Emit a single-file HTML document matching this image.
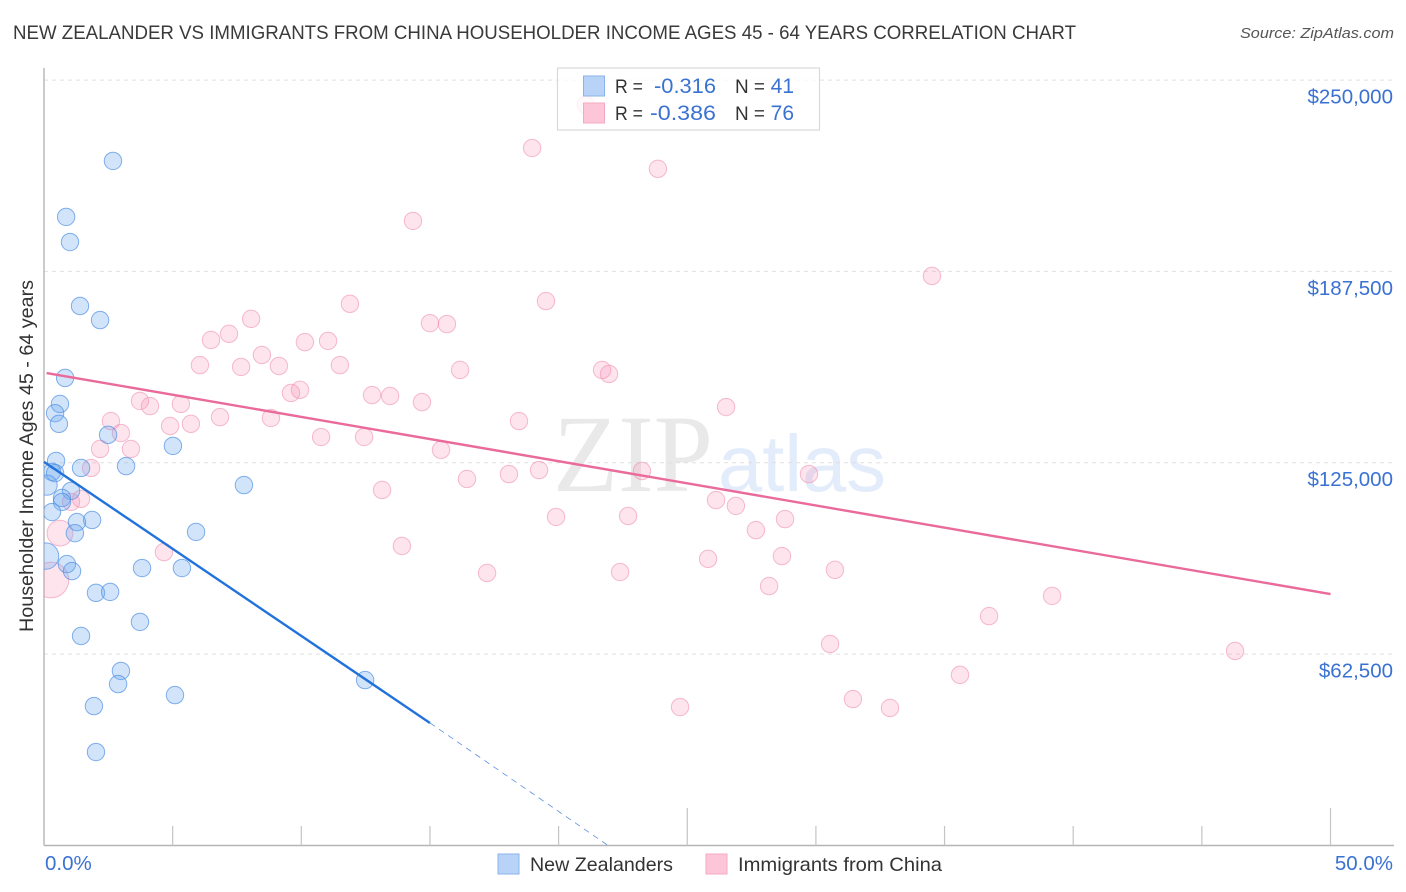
<!DOCTYPE html>
<html lang="en">
<head>
<meta charset="utf-8">
<title>New Zealander vs Immigrants from China Householder Income Correlation Chart</title>
<style>
html,body{margin:0;padding:0;background:#fff;}
body{width:1406px;height:892px;overflow:hidden;font-family:"Liberation Sans",sans-serif;}
svg{display:block;}
text{font-family:"Liberation Sans",sans-serif;}
</style>
</head>
<body>
<svg id="chart" xmlns="http://www.w3.org/2000/svg" width="1406" height="892" viewBox="0 0 1406 892">
  <defs>
    <clipPath id="plot-clip"><rect x="44" y="68" width="1350" height="778"/></clipPath>
  </defs>
  <rect x="0" y="0" width="1406" height="892" fill="#ffffff"/>
  <text x="13" y="39" font-size="19.5" fill="#3a3a3a" textLength="1063" lengthAdjust="spacingAndGlyphs">NEW ZEALANDER VS IMMIGRANTS FROM CHINA HOUSEHOLDER INCOME AGES 45 - 64 YEARS CORRELATION CHART</text>
  <text x="1394" y="38" font-size="15" font-style="italic" fill="#555555" text-anchor="end" textLength="154" lengthAdjust="spacingAndGlyphs">Source: ZipAtlas.com</text>
  <g id="watermark">
    <text x="553" y="491" font-size="110" fill="#e9e9e9" textLength="160" lengthAdjust="spacingAndGlyphs" style="font-family:'Liberation Serif',serif">ZIP</text>
    <text x="718" y="491" font-size="80" fill="#e3ecfa" textLength="168" lengthAdjust="spacingAndGlyphs">atlas</text>
  </g>
  <g id="grid"></g>
  <g id="axes"></g>
  <g id="points-pink" clip-path="url(#plot-clip)"></g>
  <g id="points-blue" clip-path="url(#plot-clip)"></g>
  <g id="trends"></g>
  <text transform="translate(33,632) rotate(-90)" font-size="19.5" fill="#333333" textLength="352" lengthAdjust="spacingAndGlyphs">Householder Income Ages 45 - 64 years</text>
  <g id="stats-legend">
    <rect x="557.5" y="68" width="262" height="62" fill="#ffffff" fill-opacity="0.78" stroke="#d9d9d9" stroke-width="1.2"/>
    <rect x="583.5" y="76" width="21" height="20" fill="#b8d3f7" stroke="#8ab4ea" stroke-width="1"/>
    <rect x="583.5" y="103" width="21" height="20" fill="#fcc6d8" stroke="#f4a9c3" stroke-width="1"/>
    <text x="615" y="93" font-size="19" fill="#333333" textLength="28" lengthAdjust="spacingAndGlyphs">R =</text>
    <text x="654" y="93" font-size="21" fill="#3a72d2" textLength="62" lengthAdjust="spacingAndGlyphs">-0.316</text>
    <text x="735" y="93" font-size="19" fill="#333333" textLength="30" lengthAdjust="spacingAndGlyphs">N =</text>
    <text x="794" y="93" font-size="21" fill="#3a72d2" text-anchor="end">41</text>
    <text x="615" y="120" font-size="19" fill="#333333" textLength="28" lengthAdjust="spacingAndGlyphs">R =</text>
    <text x="650" y="120" font-size="21" fill="#3a72d2" textLength="66" lengthAdjust="spacingAndGlyphs">-0.386</text>
    <text x="735" y="120" font-size="19" fill="#333333" textLength="30" lengthAdjust="spacingAndGlyphs">N =</text>
    <text x="794" y="120" font-size="21" fill="#3a72d2" text-anchor="end">76</text>
  </g>
  <g id="bottom-legend">
    <rect x="498" y="854" width="21" height="20" fill="#b8d3f7" stroke="#8ab4ea" stroke-width="1"/>
    <text x="530" y="871" font-size="19.5" fill="#333333" textLength="143" lengthAdjust="spacingAndGlyphs">New Zealanders</text>
    <rect x="706" y="854" width="21" height="20" fill="#fcc6d8" stroke="#f4a9c3" stroke-width="1"/>
    <text x="738" y="871" font-size="19.5" fill="#333333" textLength="204" lengthAdjust="spacingAndGlyphs">Immigrants from China</text>
  </g>
</svg>
<script>
// Value-axis ticks (USD) and labels
const incomeTicks = [62500, 125000, 187500, 250000];
const incomeTickLabels = ["$62,500", "$125,000", "$187,500", "$250,000"];
// Percent-axis ticks
const pctTicks = [5, 10, 15, 20, 25, 30, 35, 40, 45, 50];
const pctEndLabels = ["0.0%", "50.0%"];

// New Zealanders: percent, income in $ thousands, population weight
const nzPct = [2.68,0.86,1.01,1.40,2.18,0.82,0.62,0.43,0.58,2.49,5.01,0.47,0.31,0.43,1.44,3.19,0.12,7.77,1.05,0.70,0.70,0.31,1.87,1.28,1.20,5.91,0.06,0.89,1.09,3.81,5.36,2.02,2.57,3.73,1.44,2.99,12.48,2.88,5.09,1.94,2.02];
const nzIncome = [223.6,205.3,197.1,176.2,171.6,152.7,144.2,141.2,137.7,134.1,130.5,125.6,122.0,121.6,123.3,123.9,117.7,117.7,115.8,113.5,112.2,108.9,106.3,105.6,102.0,102.4,94.5,91.9,89.6,90.6,90.6,82.5,82.8,73.0,68.4,57.0,54.0,52.7,49.1,45.5,30.5];
const nzWeight = [1,1,1,1,1,1,1,1,1,1,1,1,1,1,1,1,1.35,1,1,1,1,1,1,1,1,1,2.3,1,1,1,1,1,1,1,1,1,1,1,1,1,1];

// Immigrants from China: percent, income in $ thousands, population weight
const cnPct = [21.06,18.97,23.86,14.34,34.51,19.51,11.89,8.05,15.00,15.66,7.19,6.49,10.14,11.04,8.47,11.50,6.06,7.66,9.13,16.17,21.69,21.96,3.73,4.12,5.32,9.60,9.95,12.75,13.45,14.69,26.51,6.84,8.82,2.60,4.90,5.71,18.46,2.99,10.77,12.44,2.18,3.38,15.43,1.83,23.24,19.24,18.07,16.44,29.73,13.14,1.05,1.44,26.12,26.89,19.90,22.70,28.80,27.67,0.62,4.66,13.91,25.81,28.68,17.22,22.39,30.74,28.18,39.18,36.73,30.55,46.29,35.60,31.44,24.72,32.88,0.27];
const cnIncome = [241.9,227.8,221.0,204.0,186.0,177.8,176.9,172.0,170.6,170.3,167.1,165.1,164.4,164.8,160.2,156.9,156.9,156.3,156.6,155.3,155.3,154.0,145.2,143.5,144.2,147.8,148.8,147.1,146.8,144.8,143.2,139.9,139.6,138.6,137.0,137.7,138.6,134.7,133.4,133.4,129.5,129.5,129.2,123.3,122.3,122.6,121.3,119.7,121.3,116.1,112.2,113.2,112.8,110.9,107.3,107.6,106.6,103.0,102.0,95.8,97.8,93.6,94.5,89.0,89.3,90.0,84.7,81.5,74.9,65.8,63.5,55.7,47.8,45.2,44.9,86.7];
const cnWeight = [1,1,1,1,1,1,1,1,1,1,1,1,1,1,1,1,1,1,1,1,1,1,1,1,1,1,1,1,1,1,1,1,1,1,1,1,1,1,1,1,1,1,1,1,1,1,1,1,1,1,1,1,1,1,1,1,1,1,2.2,1,1,1,1,1,1,1,1,1,1,1,1,1,1,1,1,4.2];

// Fitted trend lines: [percent, income $k]
const nzTrendSolid = [[0, 125.3], [15, 40.0]];
const nzTrendDashed = [[15, 40.0], [21.92, 0]];
const cnTrendSolid = [[0.1, 154.3], [50, 82.1]];

const SVGNS = "http://www.w3.org/2000/svg";
const X0 = 44, X1 = 1330.5, PMAX = 50;
const Y0 = 845.4, KPX = 191.33 / 62.5;
function xScale(p) { return X0 + (p / PMAX) * (X1 - X0); }
function yScale(k) { return Y0 - k * KPX; }
function radius(w) { return 8.7 * Math.sqrt(w); }
function mk(tag, attrs, parent) {
  const el = document.createElementNS(SVGNS, tag);
  for (const k in attrs) el.setAttribute(k, attrs[k]);
  parent.appendChild(el);
  return el;
}

const grid = document.getElementById("grid");
incomeTicks.forEach(function (t, i) {
  const y = yScale(t / 1000);
  const gl = mk("line", { x1: X0, x2: 1394, y1: y, y2: y, stroke: "#e0e0e0", "stroke-width": 1, "stroke-dasharray": "4 4" }, grid);
  
  
  const lb = mk("text", { x: 1393, y: y + 23.5, "font-size": 20.5, fill: "#3a72d2", "text-anchor": "end" }, grid);
  
  
  lb.textContent = incomeTickLabels[i];
});

const axes = document.getElementById("axes");
const yAxis = mk("line", { x1: X0, x2: X0, y1: 68, y2: 845.5, stroke: "#b5b5b5", "stroke-width": 1.4 }, axes);


const xAxis = mk("line", { x1: X0, x2: 1394, y1: 845.5, y2: 845.5, stroke: "#b5b5b5", "stroke-width": 1.4 }, axes);


pctTicks.forEach(function (p) {
  const x = xScale(p);
  const major = p === 25 || p === 50;
  const tk = mk("line", { x1: x, x2: x, y1: major ? 808 : 826, y2: 845.5, stroke: "#c4c4c4", "stroke-width": 1.2 }, axes);
  
  
});
const xl0 = mk("text", { x: 45, y: 870, "font-size": 20.5, fill: "#3a72d2" }, axes);


xl0.textContent = pctEndLabels[0];
const xl1 = mk("text", { x: 1393, y: 870, "font-size": 20.5, fill: "#3a72d2", "text-anchor": "end" }, axes);


xl1.textContent = pctEndLabels[1];

const gPink = document.getElementById("points-pink");
cnPct.forEach(function (p, i) {
  const c = mk("circle", { cx: xScale(p), cy: yScale(cnIncome[i]), r: radius(cnWeight[i]), fill: "#f78fb3", "fill-opacity": 0.24, stroke: "#f08fb0", "stroke-opacity": 0.6, "stroke-width": 1 }, gPink);
  
  
});
const gBlue = document.getElementById("points-blue");
nzPct.forEach(function (p, i) {
  const c = mk("circle", { cx: xScale(p), cy: yScale(nzIncome[i]), r: radius(nzWeight[i]), fill: "#6aa5ee", "fill-opacity": 0.3, stroke: "#4f90e4", "stroke-opacity": 0.7, "stroke-width": 1 }, gBlue);
  
  
});

const trends = document.getElementById("trends");
const t1 = mk("line", { x1: xScale(nzTrendSolid[0][0]), y1: yScale(nzTrendSolid[0][1]), x2: xScale(nzTrendSolid[1][0]), y2: yScale(nzTrendSolid[1][1]), stroke: "#2272dc", "stroke-width": 2.4 }, trends);


const t2 = mk("line", { x1: xScale(nzTrendDashed[0][0]), y1: yScale(nzTrendDashed[0][1]), x2: xScale(nzTrendDashed[1][0]), y2: yScale(nzTrendDashed[1][1]), stroke: "#5a90e0", "stroke-width": 0.8, "stroke-dasharray": "6 5" }, trends);


const t3 = mk("line", { x1: xScale(cnTrendSolid[0][0]), y1: yScale(cnTrendSolid[0][1]), x2: xScale(cnTrendSolid[1][0]), y2: yScale(cnTrendSolid[1][1]), stroke: "#e96a9b", "stroke-width": 2.4 }, trends);


</script>
</body>
</html>
